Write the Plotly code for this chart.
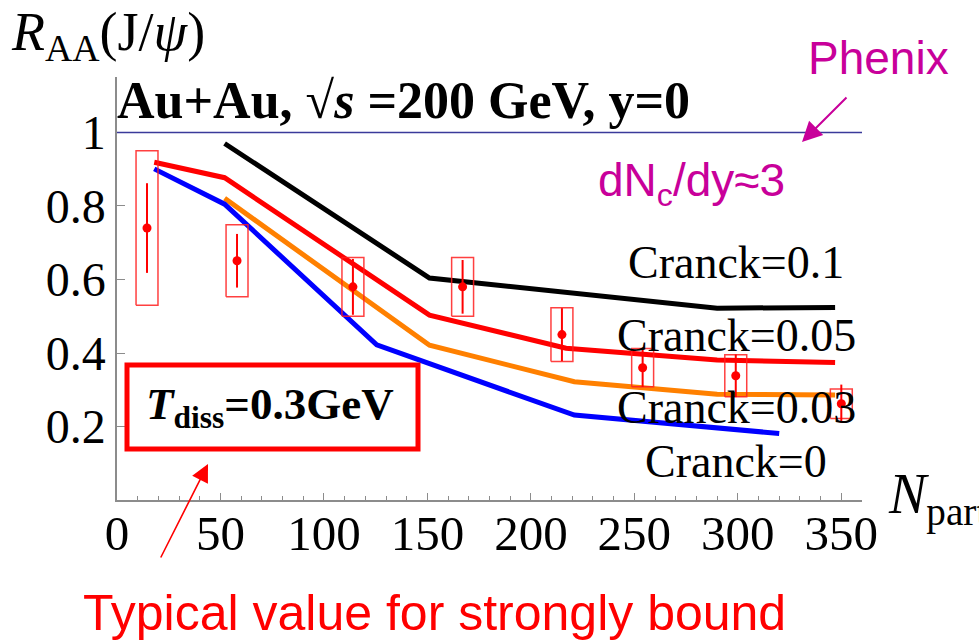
import plotly.graph_objects as go

# Model curves: R_AA(J/psi) vs N_part for several Cranck values
n_c01 = [52, 151, 290, 347]
r_c01 = [0.970, 0.604, 0.522, 0.524]

n_c005 = [18, 52, 151, 217, 290, 347]
r_c005 = [0.919, 0.877, 0.503, 0.413, 0.381, 0.374]

n_c003 = [52, 151, 221, 290, 347]
r_c003 = [0.821, 0.421, 0.322, 0.288, 0.286]

n_c0 = [18, 52, 125.5, 221, 320]
r_c0 = [0.901, 0.805, 0.422, 0.231, 0.181]

# PHENIX data: centre value, statistical and systematic errors
n_data = [14.5, 58, 114, 167, 215, 254, 299, 350]
r_data = [0.740, 0.651, 0.580, 0.580, 0.450, 0.360, 0.338, 0.262]
stat_err = [0.122, 0.073, 0.076, 0.073, 0.072, 0.052, 0.058, 0.052]
syst_err = [0.210, 0.098, 0.080, 0.080, 0.073, 0.052, 0.057, 0.040]

x_ticks = [0, 50, 100, 150, 200, 250, 300, 350]
y_ticks = [0.2, 0.4, 0.6, 0.8, 1.0]
y_tick_text = ["0.2", "0.4", "0.6", "0.8", "1"]

W, H = 979, 642
L, R, T, B = 117, 117, 77, 142
PW, PH = W - L - R, H - T - B

SERIF = "Liberation Serif"
SANS = "Liberation Sans"
MAGENTA = "#C8009A"
BOX_HALF_WIDTH = 5.3


def px(x):
    return (x - L) / PW


def py(y):
    return (H - B - y) / PH


fig = go.Figure()

# reference line at R_AA = 1
fig.add_shape(type="line", xref="paper", yref="y", x0=0, x1=1, y0=1, y1=1,
              line=dict(color="#3A3A9A", width=1.5))

for xs, ys, col in [(n_c01, r_c01, "#000000"), (n_c005, r_c005, "#FF0000"),
                    (n_c003, r_c003, "#FF8000"), (n_c0, r_c0, "#0000FF")]:
    fig.add_trace(go.Scatter(x=xs, y=ys, mode="lines",
                             line=dict(color=col, width=5), showlegend=False,
                             hoverinfo="skip"))

# systematic-error boxes
bx, by = [], []
for n, r, s in zip(n_data, r_data, syst_err):
    x0, x1 = n - BOX_HALF_WIDTH, n + BOX_HALF_WIDTH
    bx += [x0, x1, x1, x0, x0, None]
    by += [r - s, r - s, r + s, r + s, r - s, None]
fig.add_trace(go.Scatter(x=bx, y=by, mode="lines",
                         line=dict(color="rgba(255,30,30,0.85)", width=1.5),
                         showlegend=False, hoverinfo="skip"))

fig.add_trace(go.Scatter(x=n_data, y=r_data, mode="markers",
                         marker=dict(color="#FF0000", size=9),
                         error_y=dict(type="data", array=stat_err, color="#FF0000",
                                      thickness=2, width=0),
                         showlegend=False))

ann = []


def text(x, y, s, size, family=SERIF, color="black", xanchor="center"):
    ann.append(dict(x=px(x), y=py(y), xref="paper", yref="paper", text=s,
                    showarrow=False, xanchor=xanchor, yanchor="middle",
                    font=dict(family=family, size=size, color=color)))


text(9, 35, "<i>R</i><sub>AA</sub>(J/<i>ψ</i>)", 54, xanchor="left")
text(115, 101, "<b>Au+Au, √<i>s</i> =200 GeV, y=0</b>", 52, xanchor="left")
text(878, 58, "Phenix", 46, family=SANS, color=MAGENTA)
text(596, 183, "dN<sub>c</sub>/dy≈3", 46, family=SANS, color=MAGENTA, xanchor="left")
text(736, 262, "Cranck=0.1", 46)
text(736, 335, "Cranck=0.05", 46)
text(736, 407, "Cranck=0.03", 46)
text(736, 461, "Cranck=0", 46)
text(886, 498, "<i>N</i><sub>part</sub>", 56, xanchor="left")
text(144, 407, "<b><i>T</i><sub>diss</sub>=0.3GeV</b>", 45, xanchor="left")
text(81, 613, "Typical value for strongly bound", 50, family=SANS,
     color="#FF0000", xanchor="left")

# arrows
ann.append(dict(x=px(208), y=py(464), xref="paper", yref="paper", text="",
                showarrow=True, ax=-48, ay=95, arrowhead=2, arrowsize=2.2,
                arrowwidth=1.6, arrowcolor="#FF0000"))
ann.append(dict(x=px(802), y=py(142), xref="paper", yref="paper", text="",
                showarrow=True, ax=46, ay=-46, arrowhead=2, arrowsize=2.0,
                arrowwidth=2, arrowcolor=MAGENTA))

fig.add_shape(type="rect", xref="paper", yref="paper",
              x0=px(127), x1=px(418), y0=py(449), y1=py(365),
              line=dict(color="#FF0000", width=5))

fig.update_layout(
    width=W, height=H,
    margin=dict(l=L, r=R, t=T, b=B),
    paper_bgcolor="white", plot_bgcolor="white",
    annotations=ann,
    xaxis=dict(range=[0, 360], tickvals=x_ticks, showgrid=False, zeroline=False,
               showline=True, linecolor="#8C8C8C", linewidth=1.5,
               ticks="inside", ticklen=7, tickcolor="#8C8C8C", tickwidth=1,
               minor=dict(dtick=10, ticks="inside", ticklen=4,
                          tickcolor="#8C8C8C", showgrid=False),
               ticklabelstandoff=-11,
               tickfont=dict(family=SERIF, size=49, color="black")),
    yaxis=dict(range=[0, 1.151], tickvals=y_ticks, ticktext=y_tick_text,
               showgrid=False, zeroline=False,
               showline=True, linecolor="#8C8C8C", linewidth=1.5,
               ticks="inside", ticklen=8, tickcolor="#8C8C8C", tickwidth=1,
               ticklabelstandoff=0,
               tickfont=dict(family=SERIF, size=48, color="black")),
)

fig.write_html("out.html")
